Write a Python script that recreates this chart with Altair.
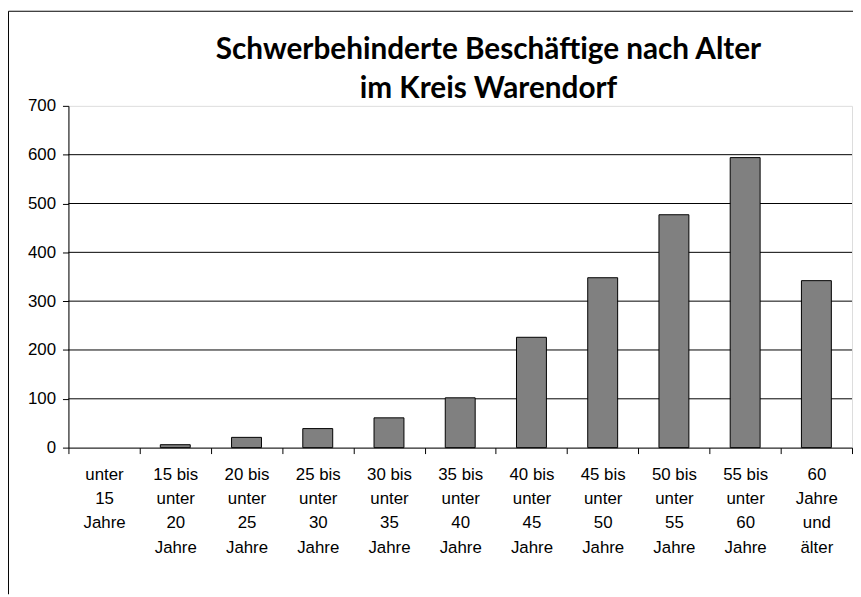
import altair as alt
import pandas as pd

categories = [
    "unter|15|Jahre",
    "15 bis|unter|20|Jahre",
    "20 bis|unter|25|Jahre",
    "25 bis|unter|30|Jahre",
    "30 bis|unter|35|Jahre",
    "35 bis|unter|40|Jahre",
    "40 bis|unter|45|Jahre",
    "45 bis|unter|50|Jahre",
    "50 bis|unter|55|Jahre",
    "55 bis|unter|60|Jahre",
    "60|Jahre|und|älter",
]
values = [0, 6, 21, 39, 61, 102, 226, 348, 477, 594, 342]
grid_values = [100, 200, 300, 400, 500, 600]
y_ticks = [0, 100, 200, 300, 400, 500, 600, 700]
title_line1 = ["Schwerbehinderte Beschäftige nach Alter"]
title_line2 = ["im Kreis Warendorf"]

W, H = 791, 345
PAD = {"left": 61, "top": 96, "right": 1, "bottom": 148}

df = pd.DataFrame({"cat": categories, "val": values})
gdf = pd.DataFrame({"g": grid_values})
one = pd.DataFrame({"a": [0]})

yscale = alt.Scale(domain=[0, 700], nice=False)
xscale = alt.Scale(domain=categories, paddingInner=0, paddingOuter=0)

yaxis = alt.Axis(
    values=y_ticks,
    labelFont="Liberation Sans",
    labelFontSize=17,
    labelColor="#000000",
    labelPadding=7,
    tickSize=6,
    tickColor="#000000",
    domainColor="#000000",
    grid=False,
)

grid = alt.Chart(gdf).mark_rule(color="#000000", strokeWidth=1).encode(
    y=alt.Y("g:Q", scale=yscale, axis=yaxis, title=None)
)

bars = alt.Chart(df).mark_bar(
    width=alt.RelativeBandSize(0.42), color="#808080", stroke="#000000", strokeWidth=1
).encode(
    x=alt.X(
        "cat:N",
        scale=xscale,
        sort=categories,
        title=None,
        axis=alt.Axis(
            labelAngle=0,
            labelExpr="split(datum.label, '|')",
            labelFont="Liberation Sans",
            labelFontSize=17,
            labelColor="#000000",
            labelLineHeight=24.5,
            labelPadding=13,
            labelBaseline="top",
            tickBand="extent",
            tickSize=6,
            tickColor="#000000",
            domainColor="#000000",
            labelLimit=0,
            grid=False,
        ),
    ),
    y=alt.Y("val:Q", scale=yscale, axis=yaxis, title=None),
    opacity=alt.condition(alt.datum.val > 0, alt.value(1), alt.value(0)),
)

left_border = alt.Chart(one).mark_rule(color="#000000", strokeWidth=1).encode(
    x=alt.value(-60.5), y=alt.value(-95.5), y2=alt.value(H + PAD["bottom"])
)
top_border = alt.Chart(one).mark_rule(color="#000000", strokeWidth=1).encode(
    x=alt.value(-60.5), x2=alt.value(W + 1), y=alt.value(-95.5)
)

def title_layer(lines, ypos):
    return alt.Chart(pd.DataFrame({"t": lines})).mark_text(
        font="Lato", fontSize=30, fontWeight="bold", color="#000000",
        align="center", baseline="middle"
    ).encode(text="t:N", x=alt.value(424), y=alt.value(ypos))

t1 = title_layer(title_line1, -56)
t2 = title_layer(title_line2, -17)

chart = alt.layer(grid, bars, left_border, top_border, t1, t2).properties(
    width=W,
    height=H,
    autosize=alt.AutoSizeParams(type="none"),
    padding=PAD,
).configure_view(stroke="#808080", strokeWidth=1).configure(background="white")

chart.save("out.html", embed_options={"renderer": "svg", "actions": False})
